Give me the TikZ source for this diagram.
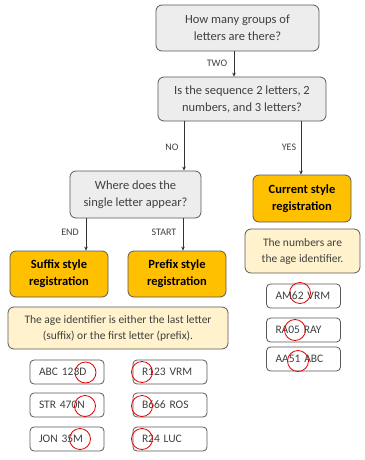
\documentclass[tikz,border=0pt]{standalone}
\usepackage{fontspec}
\setmainfont{Carlito}
\usetikzlibrary{arrows.meta}
\definecolor{bord}{HTML}{595959}
\definecolor{qfill}{HTML}{EDEDED}
\definecolor{orng}{HTML}{FFC000}
\definecolor{pale}{HTML}{FFF2CC}
\definecolor{txt}{HTML}{404040}
\tikzset{
  base/.style={draw=bord, line width=0.8pt, rounded corners=6pt, align=center, inner sep=0pt, text=txt},
  question/.style={base, fill=qfill, font=\fontsize{12.5}{17}\selectfont},
  result/.style={base, fill=orng, text=black, font=\fontsize{12.5}{17}\selectfont\bfseries},
  note/.style={base, fill=pale, font=\fontsize{11.5}{16}\selectfont},
  plate/.style={base, fill=white, rounded corners=4pt, minimum width=74pt, minimum height=24pt, text width=56pt, align=left, font=\fontsize{11.5}{13}\selectfont},
  lbl/.style={font=\fontsize{10}{11}\selectfont, text=txt, inner sep=0pt},
  arr/.style={draw=black!80, line width=0.5pt, -{Stealth[length=4pt,width=3.5pt]}},
  redring/.style={draw=red!90!black, line width=0.8pt}
}
\begin{document}
\begin{tikzpicture}[x=1pt,y=-1pt]
\useasboundingbox (0,0) rectangle (364,460);
\node[question, minimum width=163pt, minimum height=46pt] (q1) at (237.5,28) {How many groups of\\letters are there?};
\node[question, minimum width=168pt, minimum height=44pt] (q2) at (242,99) {Is the sequence 2 letters, 2\\numbers, and 3 letters?};
\node[question, minimum width=131pt, minimum height=47pt] (q3) at (135.5,194.5) {Where does the\\single letter appear?};
\node[result, minimum width=98pt, minimum height=47pt] (cur) at (302,198.5) {Current style\\registration};
\node[note, minimum width=115pt, minimum height=44pt] (num) at (302.5,251) {The numbers are\\the age identifier.};
\node[result, minimum width=98pt, minimum height=46pt] (suf) at (59,274) {Suffix style\\registration};
\node[result, minimum width=98pt, minimum height=46pt] (pre) at (177,274) {Prefix style\\registration};
\node[note, minimum width=220pt, minimum height=42pt] (age) at (118,328) {The age identifier is either the last letter\\(suffix) or the first letter (prefix).};

\node[plate] (s1) at (67,372) {ABC 123D};
\node[plate] (s2) at (67,405) {STR 470N};
\node[plate] (s3) at (67,439) {JON 35M};
\node[plate] (p1) at (170,372) {R123 VRM};
\node[plate] (p2) at (170,405) {B666 ROS};
\node[plate] (p3) at (170,439) {R24 LUC};
\node[plate] (c1) at (303.5,296) {AM62 VRM};
\node[plate] (c2) at (303.5,330) {RA05 RAY};
\node[plate] (c3) at (303.5,359) {AA51 ABC};

\draw[arr] (q1.south -| 234,0) -- (q2.north -| 234,0);
\draw[arr] (q2.south -| 184,0) -- (q3.north -| 184,0);
\draw[arr] (q2.south -| 301,0) -- (cur.north -| 301,0);
\draw[arr] (q3.south -| 86,0) -- (suf.north -| 86,0);
\draw[arr] (q3.south -| 183,0) -- (pre.north -| 183,0);

\node[lbl] (lt) at (217,63) {TWO};
\node[lbl] (ln) at (172,147) {NO};
\node[lbl] (ly) at (289,147) {YES};
\node[lbl] (le) at (70,232) {END};
\node[lbl] (ls) at (164,232) {START};

\draw[redring] (85.5,372.5) circle (10.5);
\draw[redring] (85,406) circle (10.5);
\draw[redring] (80,439) circle (10.5);
\draw[redring] (142,372) circle (10.5);
\draw[redring] (142,406) circle (10.5);
\draw[redring] (142,439) circle (10.5);
\draw[redring] (300,293) circle (10.5);
\draw[redring] (295,330) circle (10.5);
\draw[redring] (298,361) circle (10.5);
\end{tikzpicture}
\end{document}
